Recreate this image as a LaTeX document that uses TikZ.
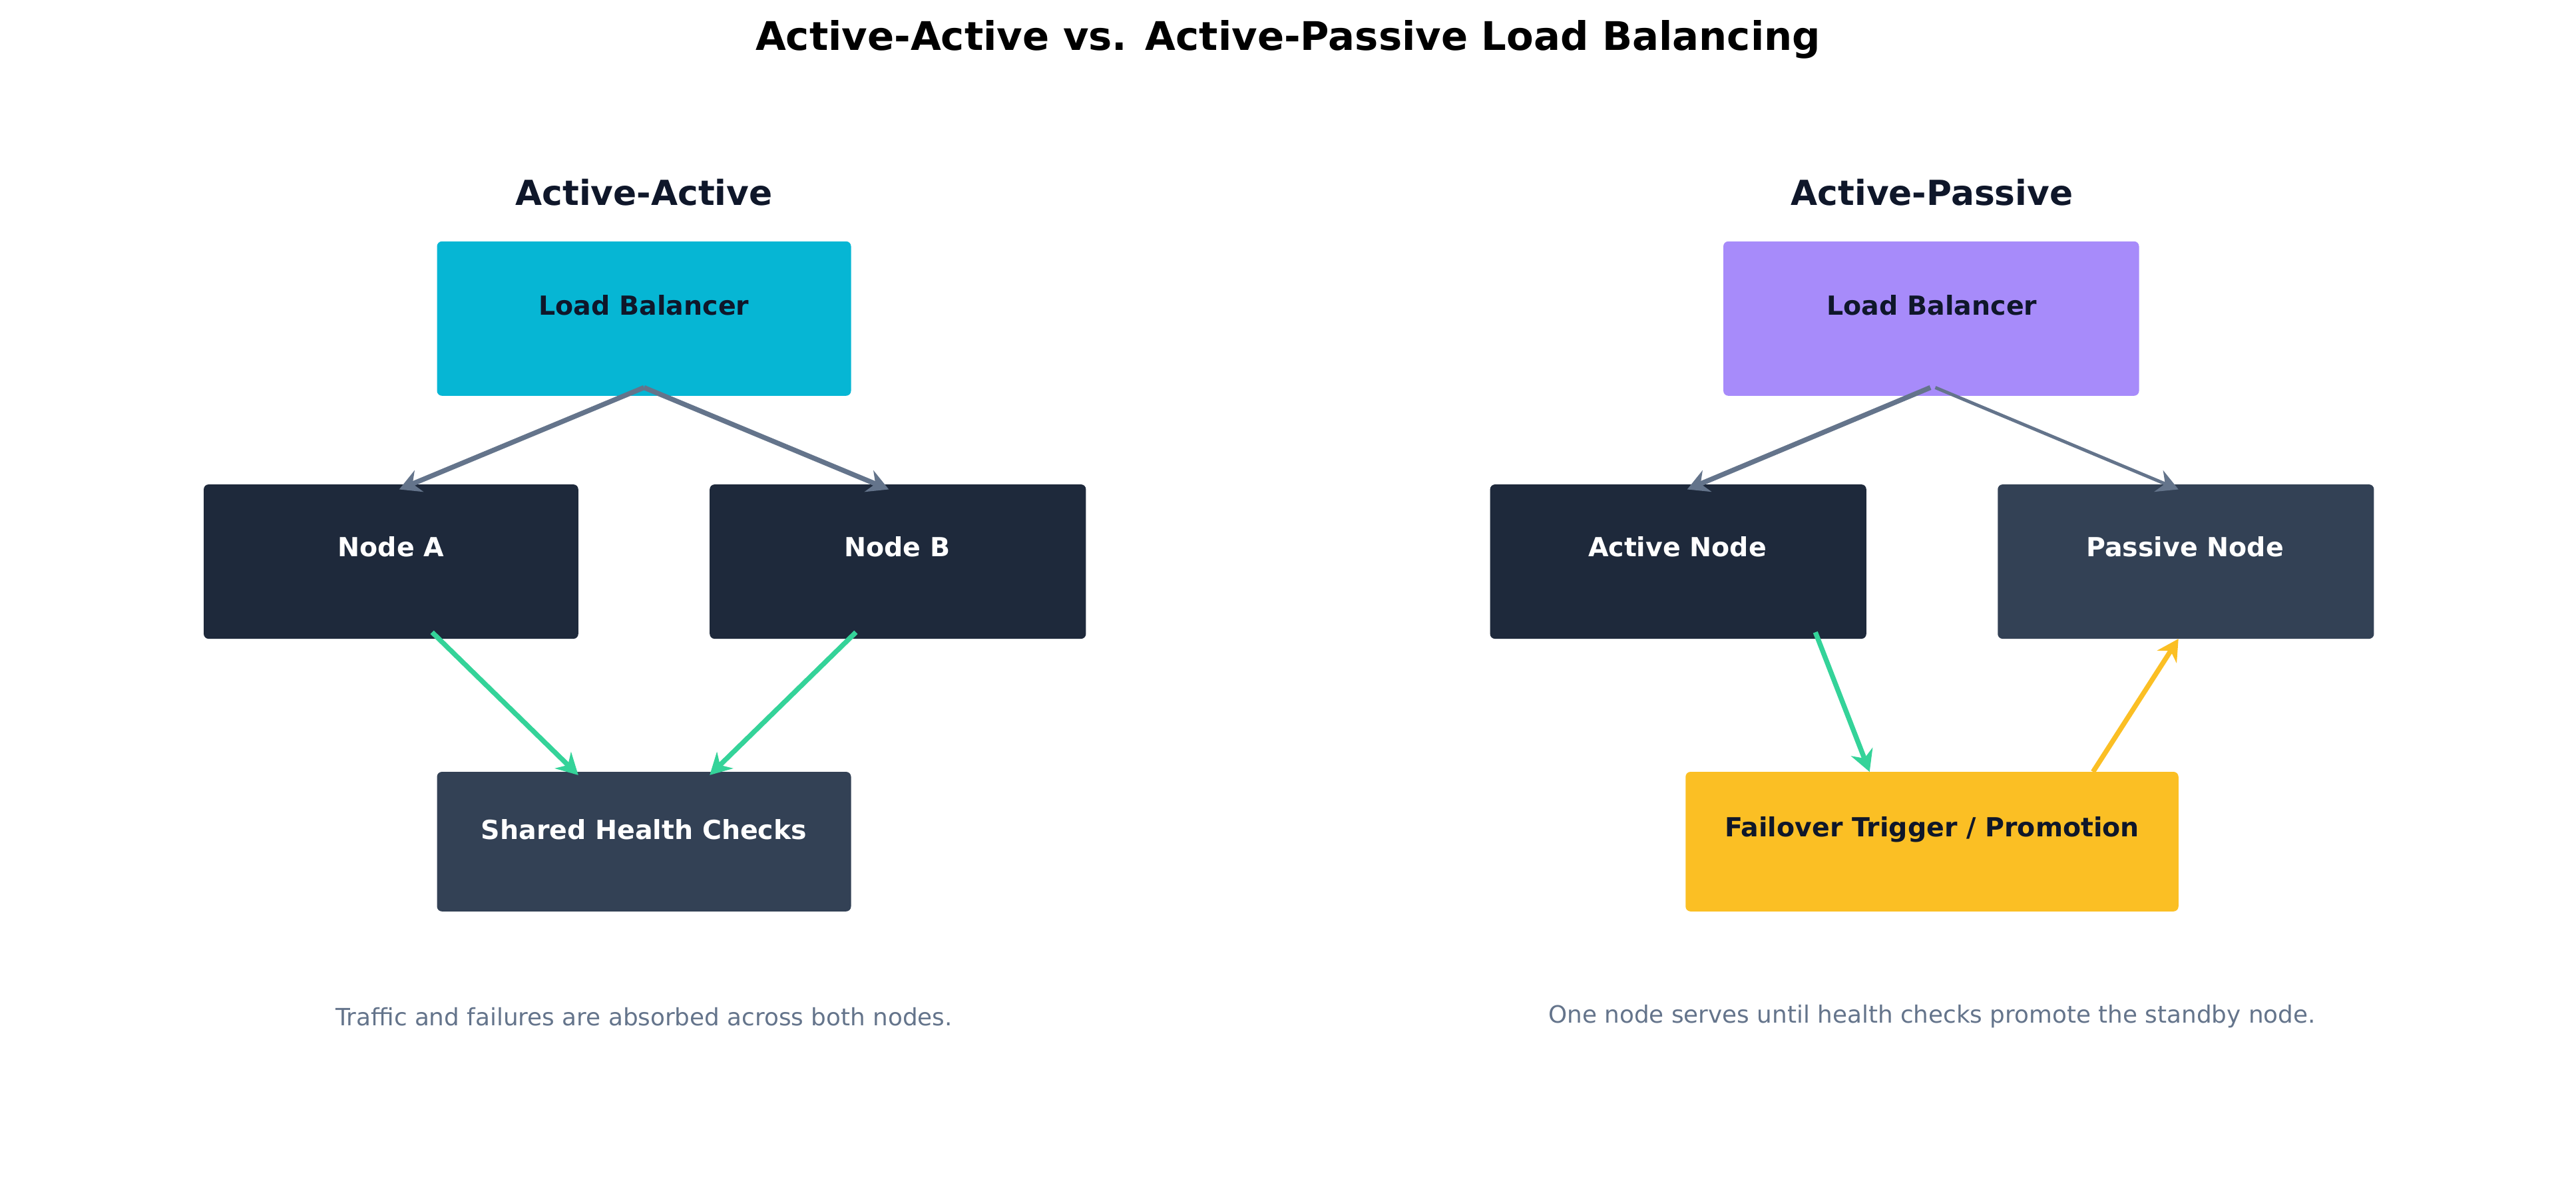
\documentclass[tikz,border=0pt]{standalone}
\usepackage{fontspec}
\setmainfont{DejaVu Sans}
\usetikzlibrary{arrows.meta}
\definecolor{cyanb}{HTML}{06B6D4}
\definecolor{purp}{HTML}{A78BFA}
\definecolor{darkb}{HTML}{1E293B}
\definecolor{slateb}{HTML}{334155}
\definecolor{ink}{HTML}{0F172A}
\definecolor{grayl}{HTML}{64748B}
\definecolor{grn}{HTML}{34D399}
\definecolor{yel}{HTML}{FBBF24}
\begin{document}
\begin{tikzpicture}[x=1pt,y=-1pt,
 box/.style={rounded corners=3pt},
 lbl/.style={font=\bfseries\fontsize{16}{18}\selectfont,anchor=center},
 conn/.style={line width=3pt,-{Stealth[length=13pt,width=14pt]}},
 sub/.style={font=\bfseries\fontsize{21}{24}\selectfont,text=ink},
 captxt/.style={font=\fontsize{14.5}{17}\selectfont,text=grayl}]
\useasboundingbox (0,0) rectangle (1568,719);
\fill[white] (0,0) rectangle (1568,719);
\node[font=\bfseries\fontsize{24}{28}\selectfont] (title) at (784,24) {Active-Active vs. Active-Passive Load Balancing};
\node[sub] (s1) at (392,117) {Active-Active};
\node[sub] (s2) at (1176,117) {Active-Passive};
% left boxes
\fill[box,cyanb] (266,147) rectangle (518,241);
\node[lbl,text=ink] (lb1) at (392,186) {Load Balancer};
\fill[box,darkb] (124,295) rectangle (352,389);
\node[lbl,text=white] (na) at (238,333) {Node A};
\fill[box,darkb] (432,295) rectangle (661,389);
\node[lbl,text=white] (nb) at (546,333) {Node B};
\fill[box,slateb] (266,470) rectangle (518,555);
\node[lbl,text=white] (sh) at (392,505) {Shared Health Checks};
% right boxes
\fill[box,purp] (1049,147) rectangle (1302,241);
\node[lbl,text=ink] (lb2) at (1176,186) {Load Balancer};
\fill[box,darkb] (907,295) rectangle (1136,389);
\node[lbl,text=white] (an) at (1021,333) {Active Node};
\fill[box,slateb] (1216,295) rectangle (1445,389);
\node[lbl,text=white] (pn) at (1330,333) {Passive Node};
\fill[box,yel] (1026,470) rectangle (1326,555);
\node[lbl,text=ink] (ft) at (1176,505) {Failover Trigger / Promotion};
% connector coordinates
\coordinate (l1) at (392,236); \coordinate (l1a) at (243,298); \coordinate (l1b) at (541,298);
\coordinate (l2) at (1175,236); \coordinate (l2b) at (1178,236);
\coordinate (l2a) at (1027,298); \coordinate (l2p) at (1326,298);
\coordinate (ab) at (263,385); \coordinate (ae) at (352,472);
\coordinate (bb) at (521,385); \coordinate (be) at (432,472);
\coordinate (cb) at (1105,385); \coordinate (ce) at (1138,470);
\coordinate (db) at (1274,470); \coordinate (de) at (1326,389);
\draw[conn,grayl] (l1) -- (l1a);
\draw[conn,grayl] (l1) -- (l1b);
\draw[conn,grayl] (l2) -- (l2a);
\draw[grayl,line width=2pt,-{Stealth[length=13pt,width=14pt]}] (l2b) -- (l2p);
\draw[conn,grn] (ab) -- (ae);
\draw[conn,grn] (bb) -- (be);
\draw[conn,grn] (cb) -- (ce);
\draw[conn,yel] (db) -- (de);
\node[captxt] (c1) at (392,619) {Traffic and failures are absorbed across both nodes.};
\node[captxt] (c2) at (1176,619) {One node serves until health checks promote the standby node.};
\end{tikzpicture}
\end{document}
